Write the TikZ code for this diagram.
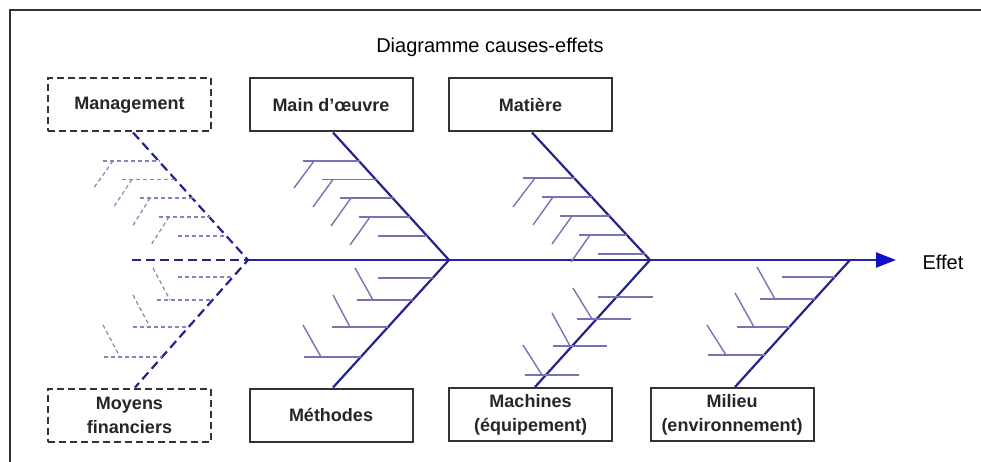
\documentclass[tikz,border=0pt]{standalone}
\usepackage{fontspec}
\setmainfont{Liberation Sans}
\usetikzlibrary{arrows.meta}
\definecolor{bone}{HTML}{23238C}
\definecolor{spine}{HTML}{2424A8}
\definecolor{sub}{HTML}{7474B4}
\definecolor{subd}{HTML}{8484B8}
\definecolor{framec}{HTML}{333333}
\definecolor{arrowblue}{HTML}{1010C8}
\begin{document}
\begin{tikzpicture}[x=1pt,y=-1pt,
  cause/.style={draw=framec,line width=2pt,fill=white,minimum width=163pt,minimum height=53pt,inner sep=0pt,
    font=\fontsize{18}{24}\selectfont\bfseries,align=center,text=black!85},
  dcause/.style={cause,dash pattern=on 7pt off 4pt},
  mainbone/.style={draw=bone,line width=2.2pt},
  dbone/.style={mainbone,dash pattern=on 9pt off 5pt},
  spineline/.style={draw=spine,line width=2.2pt},
  subbone/.style={draw=sub,line width=1.4pt},
  dsub/.style={draw=subd,line width=1.2pt,dash pattern=on 4pt off 3pt},
]
\useasboundingbox (0,0) rectangle (981,462);
\draw[framec,line width=2.5pt] (10,462) -- (10,10) -- (981,10);

\node[font=\fontsize{20}{24}\selectfont] (title) at (490,47) {Diagramme causes-effets};

% cause boxes
\node[dcause] (mgmt) at (129.5,105) {Management};
\node[cause]  (mo)   at (331,105)   {Main d’œuvre};
\node[cause]  (mat)  at (530.5,105) {Matière};
\node[dcause] (moy)  at (129.5,415) {Moyens\\financiers};
\node[cause]  (met)  at (331,415)   {Méthodes};
\node[cause]  (mac)  at (530.5,414.5) {Machines\\(équipement)};
\node[cause]  (mil)  at (732,414.5) {Milieu\\(environnement)};

\node[font=\fontsize{20}{24}\selectfont] (eff) at (943,262) {Effet};

% spine
\coordinate (s0) at (132,260);
\coordinate (j1) at (248,260);
\coordinate (j2) at (449,260);
\coordinate (j3) at (650,260);
\coordinate (j4) at (850,260);
\coordinate (tip) at (896,260);
\draw[dbone] (s0) -- (j1);
\draw[spineline,-{Triangle[length=20pt,width=15pt,color=arrowblue]}] (j1) -- (tip);

% main bones
\draw[dbone] ([xshift=3.5pt]mgmt.south) -- (j1) -- ([xshift=5.5pt]moy.north);
\draw[mainbone] ([xshift=2pt]mo.south) -- (j2) -- ([xshift=2pt]met.north);
\draw[mainbone] ([xshift=1.5pt]mat.south) -- (j3) -- ([xshift=4.5pt]mac.north);
\draw[mainbone] (j4) -- ([xshift=3pt]mil.north);

% Management sub-bones (dashed)
\foreach \y/\l/\r in {161/103/159.7,179.5/122/176.2,198/140/192.7,217/159/209.7,236/178/226.6}
  \draw[dsub] (\l,\y) -- (\r,\y);
\foreach \a/\b/\c/\d in {113/161/93/189,132/179.5/113/208,150/198/132/227,169/217/151/245}
  \draw[dsub] (\a,\b) -- (\c,\d);
% Moyens financiers sub-bones (dashed)
\foreach \y/\l/\r in {277/178/233,300/157/212.7,327/133/188.9,357/104/162.4}
  \draw[dsub] (\l,\y) -- (\r,\y);
\foreach \a/\b/\c/\d in {153/268/170/300,133/295/150/327,103/325/120/357}
  \draw[dsub] (\a,\b) -- (\c,\d);

% Main d'oeuvre sub-bones
\foreach \y/\l/\r in {161/303/360,179.5/322/376.6,198/340/393.2,217/359/410.3,236/378/427.4}
  \draw[subbone] (\l,\y) -- (\r,\y);
\foreach \a/\b/\c/\d in {314/161/294/188,333/179.5/313/207,351/198/331/226,370/217/350/245}
  \draw[subbone] (\a,\b) -- (\c,\d);
% Methodes sub-bones
\foreach \y/\l/\r in {278/378/432.7,300/357/412.7,327/332/388.3,357/304/361.1}
  \draw[subbone] (\l,\y) -- (\r,\y);
\foreach \a/\b/\c/\d in {355/268/373/300,333/295/350/327,303/325/321/357}
  \draw[subbone] (\a,\b) -- (\c,\d);

% Matiere sub-bones
\foreach \y/\l/\r in {178/523/575,197/542/592.4,216/560/609.7,235/579/627.1,254/598/644.5}
  \draw[subbone] (\l,\y) -- (\r,\y);
\foreach \a/\b/\c/\d in {535/178/513/207,553/197/533/225,572/216/552/244,590/235/571/262}
  \draw[subbone] (\a,\b) -- (\c,\d);
% Machines sub-bones
\foreach \y/\l/\r in {297/598/653,319/577/631,346/553/607,375/525/579}
  \draw[subbone] (\l,\y) -- (\r,\y);
\foreach \a/\b/\c/\d in {573/288/592/319,552/313/570/346,523/345/542/375}
  \draw[subbone] (\a,\b) -- (\c,\d);

% Milieu sub-bones
\foreach \y/\l/\r in {277/782/834.7,299/760/815,327/737/789.8,355/708/764.7}
  \draw[subbone] (\l,\y) -- (\r,\y);
\foreach \a/\b/\c/\d in {757/267/775/299,735/293/754/327,707/325/726/355}
  \draw[subbone] (\a,\b) -- (\c,\d);
\end{tikzpicture}
\end{document}
